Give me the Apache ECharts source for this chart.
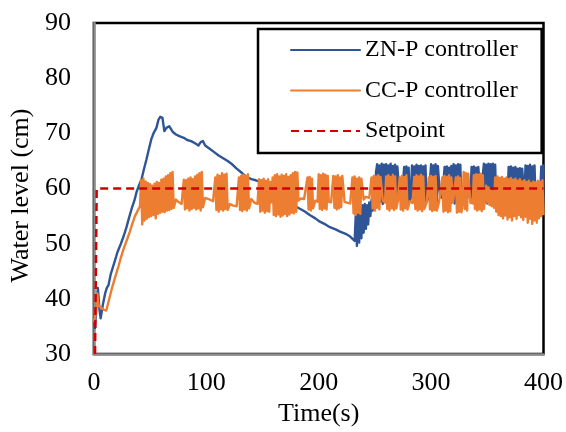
<!DOCTYPE html>
<html>
<head>
<meta charset="utf-8">
<script src="https://cdn.jsdelivr.net/npm/echarts@6/dist/echarts.min.js"></script>
<style>html,body{margin:0;padding:0;background:#fff;}#chart{width:566px;height:432px;}</style>
</head>
<body>
<div id="chart"></div>
<script>
// Axis ticks
const xTicks = [0, 100, 200, 300, 400];
const yTicks = [30, 40, 50, 60, 70, 80, 90];
const seriesNames = ['ZN-P controller', 'CC-P controller', 'Setpoint'];

// ZN-P controller water level [time s, level cm]
const znData = [
[0,36],[1,34.7],[2,38],[3.5,42],[5,38],[6,36.5],[8,39],[10,41],[11.5,42],[13,42.5],[15,44.5],[18.5,46.8],[21,48.5],[24,50],[26.5,51.4],[29,53],[31,54.5],[33.5,56.3],[36,57.8],[38,59.4],[40,60.5],[42.4,61.7],[44.5,63.5],[46.8,65.3],[49,67.2],[51,68.9],[53,70],[55.6,71],[57.5,72.5],[59,73],[60,73.2],[61,72.8],[62.7,70.4],[64.5,71],[67,71.3],[70,70.3],[73,69.8],[76,69.5],[80,69.2],[83,68.8],[86.5,68.6],[90,68.2],[93,67.8],[95,68.4],[97,68.6],[99,67.8],[103,67.2],[107,66.6],[111,66],[115,65.5],[119,65],[123,64.4],[127,63.6],[130.7,63],[134,62.4],[137,62],[140,61.7],[144,61.5],[148,61.2],[152,61],[154.5,61.2],[157,59.4],[160,59],[163,58.7],[166,58.1],[170,57.6],[175,57.1],[179,56.8],[183.7,56.3],[188,55.8],[192,55.2],[197,54.6],[201,54],[206,53.5],[210,53],[215,52.6],[219,52.2],[224,51.8],[228,51.3],[232,50.5],
[233,55.5],[234,49.6],[235,56],[236,50.2],[237,56.5],[238,51],[239,57],[240,52],[241,57.2],[242,52.7],[243,57],[244,53.5],[245,57.5],[246,55],[247,58],[248,56],[249,61],[250,58],[251,63],
[252,64.4],[253,57.3],[254,64.2],[255,57.6],[256,64.5],[257,57.2],[258,64.3],[259,57.5],[260,64.4],[261,57.1],[262,64.2],[263,57.4],[264,64.5],[265,57.2],[266,64.1],[267,57.5],[268,64.3],[269,57.3],[270,64],
[272,58.5],[274,58.4],
[276,63.9],[277,57.6],[278,64],[279,57.4],[280,63.8],[281,57.8],
[282,58.5],
[283,64.2],[284,57.5],[285,64],[286,57.3],[287,64.3],[288,57.6],[289,64.1],[290,57.2],[291,64.2],[292,57.5],[293,64],[294,57.4],[295,64.2],[296,57.6],
[298,58.4],
[300,64.4],[301,57.5],[302,64.2],[303,57.3],[304,64.4],[305,57.6],[306,64.1],
[308,58.6],[310,58.3],
[312,63.9],[313,57.4],[314,64],[315,57.6],[316,63.8],[317,57.2],[318,64.1],[319,57.5],[320,64.4],[321,57.3],[322,64.2],[323,57.6],[324,64.4],[325,57.2],[326,64.3],[327,57.5],
[329,58.5],[331,58.3],[333,58.6],[335,58.4],
[336,63.9],[337,57.6],[338,64],[339,57.3],[340,63.8],[341,57.5],[342,63.9],
[344,58.4],[345.5,58.5],
[347,64.5],[348,57.5],[349,64.3],[350,57.3],[351,64.5],[352,57.6],[353,64.4],[354,57.2],[355,64.5],[356,57.5],[357,64.3],[358,57.4],
[360,58.3],[363,58.2],[366,58.4],[368,58.3],
[369,63.9],[370,57.5],[371,64],[372,57.3],[373,63.8],[374,57.6],[375,63.9],[376,58],[377,63.6],[378,57.5],[379,63.7],[380,57.3],[381,63.6],
[383,58.3],
[384,64.2],[385,57.5],[386,64.1],[387,57.3],[388,64.3],[389,57.6],[390,64],[391,57.4],[392,64.2],[393,57.5],
[395,58.3],[397,58.5],
[398,64],[399,57.5],[400,64.2]
];

// CC-P controller water level [time s, level cm]
const ccData = [
[0,36],[1,36.5],[2,38],[3,41],[4,39],[5,38.6],[7,38.3],[9,38],[11,37.9],[13,39.5],[16,41.9],[19,44],[22,46],[24,47.5],[26.5,49.1],[29,50.5],[32,52.2],[34,53.5],[36.5,55],[39,56],[41,56.8],
[42,61.5],[43,53.5],[44,61.8],[45,54.2],[46,61.3],[47,54.5],[48,61],[49,54.8],[50,60.8],[51,55],[52,60.5],[53,55.2],[54,60.9],[55,54.6],[56,61.2],[57,55.4],[58,61],[59,55.6],[60,61.6],[61,55.8],[62,61.8],[63,55.7],[64,62.2],[65,56],[66,62.4],[67,56.1],[68,62.8],[69,56.3],[70,63],[71,56.5],
[73,58],[75,57.6],[78,57.2],
[80,61.6],[81,56.2],[82,61.5],[83,56.4],[84,61.8],[85,56],[86,62],[87,56.3],[88,61.7],[89,56.5],[90,62.2],[91,56.2],[92,62.5],[93,56.4],[94,62.8],[95,56],[96,63],[97,56.6],
[99,58.3],[102,58.1],[106,57.7],
[108,62],[109,56.1],[110,62.5],[111,55.8],[112,62.3],[113,56.2],[114,62.8],[115,56],[116,62.5],[117,56.3],[118,62.7],[119,56.1],
[121,57.2],[124,56.9],[127,56.8],
[129,62],[130,56.1],[131,62.3],[132,55.9],[133,62.5],[134,56.2],[135,62.3],[136,56],[137,62.6],[138,56.4],
[140,58.1],[143,57.4],[145.5,57.2],
[147,61.7],[148,55.8],[149,61.5],[150,56],[151,61.8],[152,55.6],[153,61.4],[154,55.9],[155,61.7],[156,55.8],[157,61.2],
[158,57.5],
[159,62],[160,55.2],[161,62.4],[162,55],[163,62.6],[164,55.3],[165,62.2],[166,54.9],[167,62.5],[168,55.1],[169,62.3],[170,55.4],[171,62.6],[172,55],[173,62.1],[174,55.3],[175,62.4],[176,55.6],[177,62.8],[178,55.5],[179,63],[180,55.8],[181,62.9],
[182,57.8],[184,58.2],[187,58.1],
[190,62],[191,56.2],[192,62.1],[193,56],[194,61.8],[195,56.4],
[197,57.8],[199,57.6],
[200,62.6],[201,56.3],[202,62.4],[203,56.1],[204,62.7],[205,56.4],[206,62.5],[207,56.2],[208,62.3],
[209,57.6],[211,57.5],
[213,62.3],[214,56.5],[215,62.2],[216,56.2],[217,62.4],[218,56.4],[219,62],[220,56.6],[221,62.3],
[223,57.6],[226,57.4],[228,57.3],
[230,62],[231,55.5],[232,62.2],[233,55.2],[234,61.8],[235,55.6],[236,62],[237,55.4],[238,61.8],
[240,58],[242,58.5],[245,58.3],
[247,62],[248,56.4],[249,62.3],[250,56],[251,62.2],[252,56.5],[253,62.4],[254,56.2],[255,62.1],
[257,57.8],[259,57.5],
[260,62.2],[261,56.3],[262,62.4],[263,56],[264,62.1],[265,56.4],[266,62.5],[267,56.1],[268,62.2],[269,56.4],
[270.5,57.8],
[272,62],[273,56.2],[274,62.3],[275,56],[276,62.1],[277,56.4],[278,62.4],[279,56.2],
[281,57.7],[283.5,57.4],
[285,62.1],[286,56.3],[287,62.4],[288,56],[289,62.2],[290,56.2],[291,62.5],[292,55.9],[293,62.2],[294,56.3],
[296,57.5],
[298,62],[299,56.2],[300,62.3],[301,55.9],[302,62.1],[303,56.1],[304,62.3],[305,56],
[307,57.5],[308.5,57.3],
[310,62],[311,55.8],[312,62.3],[313,56],[314,62.1],[315,55.7],[316,62.4],[317,55.9],[318,62],
[319.5,57.5],[321,57.3],
[322,62],[323,55.6],[324,62.2],[325,55.8],[326,61.9],[327,55.7],
[328,57.3],
[329,63],[330,56.3],[331,62.8],[332,56],[333,62.7],
[335,57.4],[337,57.3],
[338,62.4],[339,56.3],[340,62.6],[341,56],[342,62.5],[343,56.2],[344,62.7],[345,55.9],[346,62.4],[347,56.3],
[349,60.5],[350,57.5],[351,60.2],[352,57],[353,59.8],[354,56.8],[355,59.5],[356,56.5],
[357,62],[358,55.8],[359,62.2],[360,55.2],[361,61.9],[362,55],[363,62.1],[364,54.6],[365,61.8],[366,55.1],[367,62],[368,54.4],[369,61.7],[370,54.8],[371,61.9],[372,54.2],[373,61.6],[374,55],[375,61.8],[376,54.5],[377,61.4],[378,55.2],[379,61.7],[380,54.8],[381,61.3],[382,54.3],[383,61.5],[384,54.9],[385,61.2],[386,53.8],[387,61.4],[388,54.5],[389,61],[390,53.6],[391,61.3],[392,54.2],[393,61.1],[394,53.8],[395,61.4],[396,54.6],[397,61.2],[398,55],[399,61.5],[400,55.4]
];

// Setpoint [time s, level cm]
const setpointData = [[1,30],[2.5,60],[400,60]];

const font = 'Liberation Serif, Times New Roman, serif';
const chart = echarts.init(document.getElementById('chart'), null, {renderer: 'canvas'});
chart.setOption({
  animation: false,
  backgroundColor: '#fff',
  grid: {left: 92, right: 21, top: 23, bottom: 76, show: true, borderColor: '#000', borderWidth: 2.5, backgroundColor: 'transparent'},
  legend: {
    data: seriesNames,
    orient: 'vertical',
    left: 258, top: 29,
    padding: [9, 24, 10, 32],
    itemWidth: 69, itemHeight: 14, itemGap: 16.5,
    itemStyle: {opacity: 0},
    lineStyle: {width: 2},
    backgroundColor: '#fff', borderColor: '#000', borderWidth: 2.5, borderRadius: 0,
    textStyle: {fontFamily: font, fontSize: 24, color: '#000', lineHeight: 24}
  },
  xAxis: {
    type: 'value', min: xTicks[0], max: xTicks[xTicks.length - 1], interval: xTicks[1] - xTicks[0],
    name: 'Time(s)', nameLocation: 'middle', nameGap: 40,
    nameTextStyle: {fontFamily: font, fontSize: 26, color: '#000'},
    axisLine: {show: true, lineStyle: {color: '#8c8c8c', width: 2.5}},
    axisTick: {show: false}, splitLine: {show: false},
    axisLabel: {fontFamily: font, fontSize: 26, color: '#000', margin: 16}
  },
  yAxis: {
    type: 'value', min: yTicks[0], max: yTicks[yTicks.length - 1], interval: yTicks[1] - yTicks[0],
    name: 'Water level (cm)', nameLocation: 'middle', nameGap: 48, nameRotate: 90,
    nameTextStyle: {fontFamily: font, fontSize: 26, color: '#000', padding: [0, 14, 0, 0]},
    axisLine: {show: true, lineStyle: {color: '#8c8c8c', width: 2.5}},
    axisTick: {show: false}, splitLine: {show: false},
    axisLabel: {fontFamily: font, fontSize: 26, color: '#000', margin: 23}
  },
  series: [
    {name: seriesNames[0], type: 'line', data: znData, symbol: 'none', showSymbol: false, lineStyle: {color: '#2F5597', width: 2.4, join: 'round', cap: 'round'}, itemStyle: {color: '#2F5597'}, z: 2},
    {name: seriesNames[1], type: 'line', data: ccData, symbol: 'none', showSymbol: false, lineStyle: {color: '#ED7D31', width: 2.4, join: 'round', cap: 'round'}, itemStyle: {color: '#ED7D31'}, z: 3},
    {name: seriesNames[2], type: 'line', data: setpointData, symbol: 'none', showSymbol: false, lineStyle: {color: '#D00000', width: 2.5, type: [8, 5]}, itemStyle: {color: '#D00000'}, z: 4}
  ]
});
</script>
</body>
</html>
